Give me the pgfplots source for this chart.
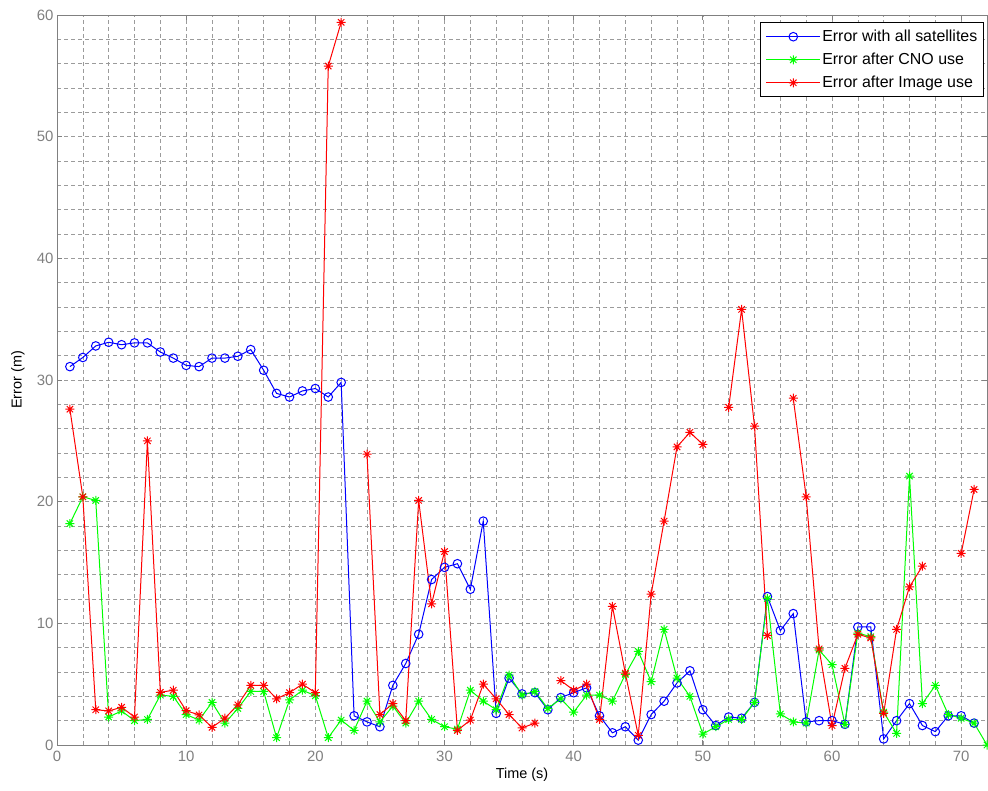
\documentclass[border=0pt]{standalone}
\usepackage{pgfplots}
\pgfplotsset{compat=1.18}
\usepackage{fontspec}
\setmainfont{Liberation Sans}
\definecolor{mblue}{rgb}{0,0,1}
\definecolor{mgreen}{rgb}{0,1,0}
\definecolor{mred}{rgb}{1,0,0}
\definecolor{axgray}{RGB}{128,128,128}
\definecolor{gridgray}{RGB}{155,155,155}
\pgfdeclareplotmark{mstar}{%
  \pgfpathmoveto{\pgfpoint{-\pgfplotmarksize}{0pt}}\pgfpathlineto{\pgfpoint{\pgfplotmarksize}{0pt}}%
  \pgfpathmoveto{\pgfpoint{0pt}{-\pgfplotmarksize}}\pgfpathlineto{\pgfpoint{0pt}{\pgfplotmarksize}}%
  \pgfpathmoveto{\pgfpoint{-0.707\pgfplotmarksize}{-0.707\pgfplotmarksize}}\pgfpathlineto{\pgfpoint{0.707\pgfplotmarksize}{0.707\pgfplotmarksize}}%
  \pgfpathmoveto{\pgfpoint{-0.707\pgfplotmarksize}{0.707\pgfplotmarksize}}\pgfpathlineto{\pgfpoint{0.707\pgfplotmarksize}{-0.707\pgfplotmarksize}}%
  \pgfusepathqstroke}

\pgfplotstableread{
x y
1 31.1
2 31.85
3 32.8
4 33.1
5 32.9
6 33.05
7 33.05
8 32.3
9 31.8
10 31.2
11 31.1
12 31.8
13 31.8
14 31.95
15 32.5
16 30.8
17 28.9
18 28.6
19 29.1
20 29.3
21 28.6
22 29.8
23 2.4
24 1.9
25 1.5
26 4.9
27 6.7
28 9.1
29 13.6
30 14.6
31 14.9
32 12.8
33 18.4
34 2.6
35 5.5
36 4.2
37 4.3
38 2.9
39 3.9
40 4.3
41 4.7
42 2.4
43 1.0
44 1.5
45 0.4
46 2.5
47 3.6
48 5.1
49 6.1
50 2.9
51 1.6
52 2.3
53 2.2
54 3.5
55 12.2
56 9.4
57 10.8
58 1.9
59 2.0
60 2.0
61 1.7
62 9.7
63 9.7
64 0.5
65 2.0
66 3.4
67 1.6
68 1.1
69 2.4
70 2.4
71 1.8
}\allsat

\pgfplotstableread{
x y
1 18.2
2 20.4
3 20.1
4 2.3
5 2.8
6 2.0
7 2.1
8 4.1
9 4.0
10 2.5
11 2.05
12 3.5
13 1.8
14 3.0
15 4.4
16 4.4
17 0.6
18 3.7
19 4.5
20 4.05
21 0.6
22 2.05
23 1.2
24 3.6
25 1.9
26 3.2
27 1.8
28 3.6
29 2.1
30 1.5
31 1.3
32 4.5
33 3.6
34 2.9
35 5.75
36 4.1
37 4.4
38 3.0
39 3.8
40 2.7
41 4.1
42 4.1
43 3.6
44 5.8
45 7.7
46 5.2
47 9.5
48 5.5
49 4.0
50 0.9
51 1.5
52 2.1
53 2.1
54 3.5
55 12.05
56 2.55
57 1.9
58 1.8
59 7.8
60 6.6
61 1.7
62 9.2
63 8.9
64 2.7
65 0.95
66 22.1
67 3.4
68 4.9
69 2.5
70 2.2
71 1.8
72 0.0
}\cno

\pgfplotstableread{
x y
1 27.6
2 20.4
3 2.9
4 2.8
5 3.1
6 2.3
7 25.0
8 4.33
9 4.5
10 2.82
11 2.47
12 1.45
13 2.2
14 3.3
15 4.9
16 4.9
17 3.8
18 4.3
19 5.0
20 4.3
21 55.8
22 59.4
23 nan
24 23.9
25 2.5
26 3.4
27 2.0
28 20.1
29 11.6
30 15.9
31 1.2
32 2.05
33 5.0
34 3.8
35 2.5
36 1.4
37 1.8
38 nan
39 5.3
40 4.5
41 5.0
42 2.1
43 11.4
44 5.9
45 0.8
46 12.4
47 18.4
48 24.5
49 25.7
50 24.7
51 nan
52 27.75
53 35.8
54 26.2
55 9.0
56 nan
57 28.5
58 20.4
59 7.9
60 1.6
61 6.3
62 9.1
63 8.8
64 2.6
65 9.5
66 13.0
67 14.7
68 nan
69 nan
70 15.75
71 21.0
}\image

\begin{document}
\begin{tikzpicture}
\begin{axis}[
  scale only axis, width=930bp, height=730bp,
  xmin=0, xmax=72, ymin=0, ymax=60,
  xtick={0,10,...,70}, ytick={0,10,...,60},
  minor xtick={2,4,...,72}, minor ytick={2,4,...,58},
  grid=both,
  major grid style={gridgray, dash pattern=on 4bp off 3bp, line width=0.6bp},
  minor grid style={gridgray, dash pattern=on 4bp off 3bp, line width=0.6bp},
  tick align=inside, major tick length=5bp, minor tick length=0bp,
  axis line style={axgray, line width=0.8bp},
  every tick/.style={axgray, line width=0.8bp},
  tick label style={font=\fontsize{15}{15}\selectfont, text=axgray},
  xticklabel style={yshift=-3bp},
  /pgf/number format/assume math mode=true,
  xlabel={Time (s)}, ylabel={Error (m)},
  label style={font=\fontsize{14.5}{14.5}\selectfont},
  xlabel style={at={(axis description cs:0.5,-0.041)}, anchor=center},
  ylabel style={at={(axis description cs:-0.042,0.5)}, anchor=center},
  unbounded coords=jump,
  legend style={at={(0.997,0.99)}, anchor=north east, draw=black, line width=0.8bp, fill=white,
    font=\fontsize{16}{18}\selectfont, inner xsep=5bp, inner ysep=6bp, row sep=7bp,
    nodes={inner sep=1.5bp},
    /tikz/every even column/.append style={column sep=4bp}},
  legend cell align=left,
  legend image code/.code={\draw[mark repeat=2,mark phase=2,#1] plot coordinates {(0bp,0bp) (27bp,0bp) (54bp,0bp)};},
]
\addplot[mblue, line width=1bp, mark=o, mark size=4.3bp, mark options={line width=1bp}] table[x=x,y=y] {\allsat};
\addlegendentry{Error with all satellites}
\addplot[mgreen, line width=1bp, mark=mstar, mark size=4.5bp, mark options={line width=1bp}] table[x=x,y=y] {\cno};
\addlegendentry{Error after CNO use}
\addplot[mred, line width=1bp, mark=mstar, mark size=4.5bp, mark options={line width=1bp}] table[x=x,y=y] {\image};
\addlegendentry{Error after Image use}
\end{axis}
\pgfresetboundingbox
\useasboundingbox (-57bp,-46bp) rectangle (931bp,745bp);
\end{tikzpicture}
\end{document}
